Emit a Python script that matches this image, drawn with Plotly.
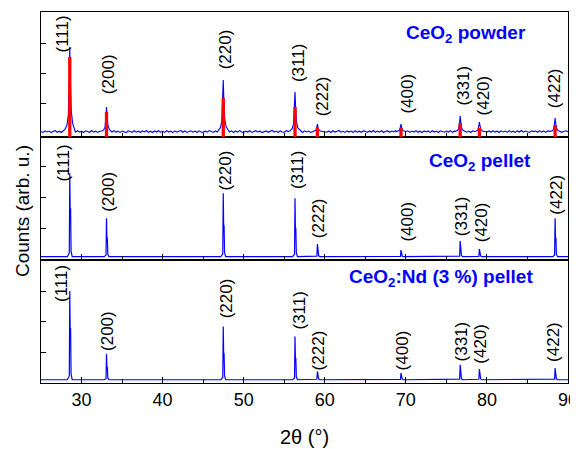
import numpy as np
import plotly.graph_objects as go

# ---------------- data ----------------
hkl_labels = ["(111)", "(200)", "(220)", "(311)", "(222)", "(400)", "(331)", "(420)", "(422)"]
peak_pos = [28.55, 33.08, 47.48, 56.33, 59.09, 69.40, 76.70, 79.07, 88.41]
x_ticks = [30, 40, 50, 60, 70, 80, 90]

# reference (red) bar heights in CeO2 powder panel
powder_ref_heights = [2533, 700, 1167, 867, 167, 167, 333, 167, 267]

# CeO2 powder: noisy background sampled every 0.25 deg from 25 to 90
powder_bg_step = 0.25
powder_bg_y = [
    45, 20, 72, 38, 65, 15, 58, 80, 25, 62, 18, 70, 32, 85, 50, 23, 68, 30, 76, 27,
    60, 18, 73, 45, 25, 82, 31, 65, 20, 58, 77, 28, 62, 16, 70, 34, 80, 26, 64, 21,
    67, 32, 14, 73, 48, 25, 78, 30, 63, 19, 71, 36, 84, 24, 60, 17, 68, 33, 75, 29,
    57, 22, 80, 34, 66, 16, 72, 28, 61, 83, 26, 69, 20, 59, 76, 31, 65, 18, 74, 35,
    24, 68, 30, 81, 48, 19, 71, 33, 64, 27, 78, 21, 62, 35, 73, 17, 67, 30, 82, 36,
    23, 65, 32, 75, 20, 60, 79, 28, 68, 16, 57, 72, 25, 63, 84, 31, 66, 19, 70, 34,
    27, 77, 48, 21, 69, 33, 80, 26, 62, 18, 74, 35, 67, 23, 59, 81, 30, 65, 20, 72,
    56, 25, 68, 17, 76, 32, 63, 85, 28, 59, 21, 71, 34, 67, 19, 78, 30, 62, 26, 73,
    58, 20, 69, 33, 82, 24, 65, 31, 75, 18, 60, 72, 27, 66, 35, 79, 22, 63, 37, 70,
    29, 74, 21, 67, 34, 80, 25, 62, 17, 71, 36, 68, 23, 77, 32, 64, 19, 73, 58, 28,
    66, 33, 81, 24, 61, 72, 20, 68, 35, 76, 27, 63, 18, 70, 37, 83, 29, 65, 22, 74,
    34, 69, 26, 78, 31, 60, 17, 73, 37, 66, 23, 80, 32, 62, 20, 71, 35, 84, 28, 67,
    33, 19, 75, 48, 65, 25, 79, 30, 68, 21, 72, 36, 63, 27, 81, 34, 70, 24, 60, 76,
    42,
]
# CeO2 powder: broad peak profiles (offset from peak position, counts)
powder_profile_dx = [-0.6, -0.35, -0.18, -0.08, 0.0, 0.08, 0.18, 0.35, 0.6]
powder_profiles = [
    [120, 260, 600, 1600, 2867, 1730, 750, 320, 150],
    [65, 105, 205, 495, 867, 535, 245, 120, 75],
    [90, 180, 385, 990, 1767, 1075, 470, 210, 110],
    [80, 145, 305, 770, 1367, 835, 370, 170, 95],
    [45, 60, 90, 185, 300, 195, 105, 65, 50],
    [45, 60, 90, 185, 300, 195, 105, 65, 50],
    [55, 80, 145, 330, 567, 355, 170, 90, 60],
    [50, 65, 105, 220, 367, 235, 120, 70, 55],
    [55, 75, 130, 295, 500, 315, 155, 85, 60],
]

# sharp peak profiles for the pellets (Ka1 spike + Ka2 shoulder)
pellet_profile_dx = [-0.3, -0.06, 0.0, 0.05, 0.1, 0.16, 0.3]
pellet_base = 78
pellet_profiles = [
    [78, 200, 2786, 1500, 1650, 260, 78],
    [78, 130, 1325, 640, 700, 160, 78],
    [78, 170, 2136, 1000, 1100, 220, 78],
    [78, 160, 1974, 930, 1020, 210, 78],
    [78, 95, 490, 260, 280, 110, 78],
    [78, 90, 295, 180, 200, 100, 78],
    [78, 100, 588, 300, 330, 115, 78],
    [78, 90, 328, 190, 210, 100, 78],
    [78, 130, 1325, 640, 700, 160, 78],
]
nd_base = 85
nd_profiles = [
    [85, 210, 3020, 1650, 1800, 270, 85],
    [85, 120, 944, 460, 510, 150, 85],
    [85, 160, 1845, 870, 960, 210, 85],
    [85, 145, 1515, 720, 800, 190, 85],
    [85, 100, 360, 200, 215, 110, 85],
    [85, 100, 307, 180, 195, 105, 85],
    [85, 105, 581, 300, 330, 120, 85],
    [85, 100, 439, 230, 250, 110, 85],
    [85, 105, 472, 250, 270, 115, 85],
]

# hkl label positions (data coords of each panel)
powder_label_x = [27.53, 33.28, 47.74, 56.71, 59.70, 70.09, 77.00, 79.57, 88.29]
powder_label_y = [3300, 1967, 2800, 2333, 1233, 1300, 1567, 1267, 1500]
pellet_label_x = [27.66, 33.28, 47.74, 56.58, 59.18, 70.09, 76.88, 79.36, 88.47]
pellet_label_y = [3120, 2195, 2893, 2893, 1334, 1205, 1383, 1188, 2081]
nd_label_x = [27.60, 33.28, 47.99, 56.90, 59.24, 69.60, 76.92, 79.26, 88.29]
nd_label_y = [3254, 1703, 2792, 2363, 1043, 1043, 1350, 1274, 1340]

panel_titles = ["<b>CeO<sub>2</sub> powder</b>", "<b>CeO<sub>2</sub> pellet</b>",
                "<b>CeO<sub>2</sub>:Nd (3 %) pellet</b>"]

x_range = [25, 90]
top_range = [-133, 4033]
mid_range = [-29, 3964]
bot_range = [-23, 4046]
y_tickvals = [1000, 2000, 3000]


# ---------------- assemble curves ----------------
def assemble(bg_x, bg_y, dx, profiles, excl):
    pts = [(x, y) for x, y in zip(bg_x, bg_y)
           if all(abs(x - p) >= excl for p in peak_pos)]
    for p, prof in zip(peak_pos, profiles):
        pts += [(p + d, v) for d, v in zip(dx, prof)]
    pts.sort()
    return [a for a, _ in pts], [b for _, b in pts]


powder_bg_x = [25 + powder_bg_step * i for i in range(len(powder_bg_y))]
px, py = assemble(powder_bg_x, powder_bg_y, powder_profile_dx, powder_profiles, 0.62)
mx, my = assemble([25, 90], [pellet_base, pellet_base], pellet_profile_dx, pellet_profiles, 0.35)
bx, by = assemble([25, 90], [nd_base, nd_base], pellet_profile_dx, nd_profiles, 0.35)

red_x, red_y = [], []
for p, h in zip(peak_pos, powder_ref_heights):
    red_x += [p, p, None]
    red_y += [top_range[0], h, None]

BLUE = "#0000FF"
FONT = "Liberation Sans, Arial, sans-serif"

fig = go.Figure()
fig.add_trace(go.Scatter(x=bx, y=by, mode="lines", line=dict(color=BLUE, width=1.2),
                         xaxis="x", yaxis="y", showlegend=False))
fig.add_trace(go.Scatter(x=mx, y=my, mode="lines", line=dict(color=BLUE, width=1.2),
                         xaxis="x2", yaxis="y2", showlegend=False))
fig.add_trace(go.Scatter(x=px, y=py, mode="lines", line=dict(color=BLUE, width=1.1),
                         xaxis="x3", yaxis="y3", showlegend=False))
fig.add_trace(go.Scatter(x=red_x, y=red_y, mode="lines", line=dict(color="#FF0000", width=3.3),
                         xaxis="x3", yaxis="y3", showlegend=False, connectgaps=False))

# ---------------- axes ----------------
def xaxis_cfg(anchor, labels):
    return dict(range=x_range, anchor=anchor, tickvals=x_ticks, ticks="inside", ticklen=6,
                tickwidth=1.2, tickcolor="black", showline=True, linecolor="black",
                linewidth=1.3, mirror=True, showgrid=False, zeroline=False,
                showticklabels=labels, ticklabeloverflow="allow",
                tickfont=dict(family=FONT, size=18, color="black"),
                minor=dict(tickvals=[35, 45, 55, 65, 75, 85], ticks="inside", ticklen=4,
                           tickwidth=1.2, tickcolor="black"))


def yaxis_cfg(anchor, dom, rng):
    return dict(domain=dom, range=rng, anchor=anchor, tickvals=y_tickvals, ticks="inside",
                ticklen=5, tickwidth=1.2, tickcolor="black", showline=True,
                linecolor="black", linewidth=1.3, mirror=True, showgrid=False,
                zeroline=False, showticklabels=False)


# the page body adds an 8 px offset, so the figure is 8 px smaller on each axis
d1, d2 = 0.3315, 0.663
fig.update_layout(
    width=570, height=441,
    margin=dict(l=33, r=10, t=4, b=66, autoexpand=False),
    paper_bgcolor="white", plot_bgcolor="white",
    xaxis=xaxis_cfg("y", True),
    xaxis2=xaxis_cfg("y2", False),
    xaxis3=xaxis_cfg("y3", False),
    yaxis=yaxis_cfg("x", [0, d1], bot_range),
    yaxis2=yaxis_cfg("x2", [d1, d2], mid_range),
    yaxis3=yaxis_cfg("x3", [d2, 1], top_range),
    font=dict(family=FONT, color="black"),
)

ann = []
for lx, ly, lab in zip(powder_label_x, powder_label_y, hkl_labels):
    ann.append(dict(x=lx, y=ly, xref="x3", yref="y3", text=lab, textangle=-90,
                    showarrow=False, font=dict(size=17, family=FONT, color="black")))
for lx, ly, lab in zip(pellet_label_x, pellet_label_y, hkl_labels):
    ann.append(dict(x=lx, y=ly, xref="x2", yref="y2", text=lab, textangle=-90,
                    showarrow=False, font=dict(size=17, family=FONT, color="black")))
for lx, ly, lab in zip(nd_label_x, nd_label_y, hkl_labels):
    ann.append(dict(x=lx, y=ly, xref="x", yref="y", text=lab, textangle=-90,
                    showarrow=False, font=dict(size=17, family=FONT, color="black")))

title_pos = [(0.924, 0.9407), (0.9336, 0.5957), (0.937, 0.283)]
for (tx, ty), t in zip(title_pos, panel_titles):
    ann.append(dict(x=tx, y=ty, xref="paper", yref="paper", text=t, showarrow=False,
                    xanchor="right", yanchor="middle",
                    font=dict(size=19, family=FONT, color=BLUE)))

ann.append(dict(x=0.5, y=-0.146, xref="paper", yref="paper", text="2θ (°)",
                showarrow=False, xanchor="center", yanchor="middle",
                font=dict(size=20, family=FONT, color="black")))
ann.append(dict(x=-0.036, y=0.4636, xref="paper", yref="paper", text="Counts (arb. u.)",
                textangle=-90, showarrow=False, xanchor="center", yanchor="middle",
                font=dict(size=19, family=FONT, color="black")))
fig.update_layout(annotations=ann)

fig.write_html("out.html")
